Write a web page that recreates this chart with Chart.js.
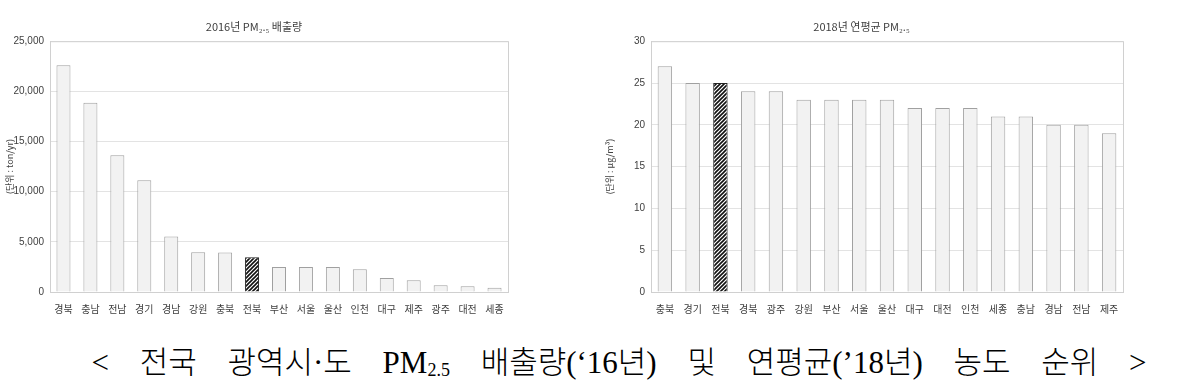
<!DOCTYPE html>
<html>
<head>
<meta charset="utf-8">
<script src="https://cdn.jsdelivr.net/npm/chart.js@4.4.0/dist/chart.umd.min.js"></script>
<style>
  body { margin: 0; background: #fff; width: 1194px; height: 383px; overflow: hidden; position: relative; }
  #box1 { position: absolute; left: 0; top: 0; width: 515px; height: 320px; }
  #box2 { position: absolute; left: 600px; top: 0; width: 530px; height: 320px; }
  #caption { position: absolute; left: 22px; top: 343px; width: 1194px; text-align: center; white-space: nowrap;
    font-family: "Liberation Serif", "Noto Sans CJK KR", serif; font-size: 31px; line-height: 40px; font-weight: 300;
    color: #000; word-spacing: 23px; }
  #caption sub { font-size: 18px; vertical-align: -3px; }
</style>
</head>
<body>
<div id="box1"><canvas id="chartEmis"></canvas></div>
<div id="box2"><canvas id="chartConc"></canvas></div>
<div id="caption">&lt; 전국 광역시·도 PM<sub>2.5</sub> 배출량(‘16년) 및 연평균(’18년) 농도 순위 &gt;</div>
<script>
// 2016 배출량 (ton/yr)
var regions2016 = ['경북', '충남', '전남', '경기', '경남', '강원', '충북', '전북', '부산', '서울', '울산', '인천', '대구', '제주', '광주', '대전', '세종'];
var emission2016 = [22600, 18870, 13630, 11130, 5530, 3970, 3930, 3470, 2500, 2500, 2500, 2270, 1400, 1170, 670, 570, 430];
var ticks2016 = [0, 5000, 10000, 15000, 20000, 25000];

// 2018 연평균 농도 (ug/m3)
var regions2018 = ['충북', '경기', '전북', '경북', '광주', '강원', '부산', '서울', '울산', '대구', '대전', '인천', '세종', '충남', '경남', '전남', '제주'];
var conc2018 = [27, 25, 25, 24, 24, 23, 23, 23, 23, 22, 22, 22, 21, 21, 20, 20, 19];
var ticks2018 = [0, 5, 10, 15, 20, 25, 30];

var highlight = '전북';

function hatch() {
  var c = document.createElement('canvas');
  c.width = 4; c.height = 4;
  var g = c.getContext('2d');
  g.fillStyle = '#fff';
  g.fillRect(0, 0, 4, 4);
  g.strokeStyle = '#111';
  g.lineWidth = 1.6;
  g.beginPath();
  g.moveTo(-1, 5); g.lineTo(5, -1);
  g.moveTo(-1, 1); g.lineTo(1, -1);
  g.moveTo(3, 5); g.lineTo(5, 3);
  g.stroke();
  return g.createPattern(c, 'repeat');
}
var pat = hatch();

var frame = {
  id: 'frame',
  afterDraw: function (chart) {
    var a = chart.chartArea, ctx = chart.ctx;
    ctx.save();
    ctx.strokeStyle = '#d0d0d0';
    ctx.lineWidth = 1;
    ctx.strokeRect(a.left + 0.5, a.top + 0.5, a.right - a.left, a.bottom - a.top);
    ctx.restore();
  }
};

function makeChart(id, labels, values, ticks, title, yTitle, yWidth) {
  var fills = labels.map(function (l) { return l == highlight ? pat : '#f2f2f2'; });
  var borders = labels.map(function (l) { return l == highlight ? '#222' : '#a0a0a0'; });
  return new Chart(document.getElementById(id), {
    type: 'bar',
    data: {
      labels: labels,
      datasets: [{
        data: values,
        backgroundColor: fills,
        borderColor: borders,
        borderWidth: 1,
        barPercentage: 0.52,
        categoryPercentage: 1
      }]
    },
    plugins: [frame],
    options: {
      responsive: true,
      maintainAspectRatio: false,
      animation: false,
      layout: { padding: { right: 7 } },
      plugins: {
        legend: { display: false },
        tooltip: { enabled: false },
        title: {
          display: true,
          text: title,
          color: '#404040',
          font: { family: 'Noto Sans CJK KR', size: 11, weight: 'normal' },
          padding: { top: 20, bottom: 8 }
        }
      },
      scales: {
        x: {
          grid: { display: false },
          border: { color: '#d0d0d0' },
          ticks: { color: '#404040', font: { family: 'Noto Sans CJK KR', size: 10 }, maxRotation: 0, autoSkip: false },
          afterFit: function (s) { s.height = 28; }
        },
        y: {
          min: ticks[0],
          max: ticks[ticks.length - 1],
          afterBuildTicks: function (s) { s.ticks = ticks.map(function (v) { return { value: v }; }); },
          grid: { color: '#e3e3e3', drawTicks: false },
          border: { color: '#d0d0d0' },
          ticks: {
            color: '#404040',
            padding: 6,
            font: { family: 'Liberation Sans Narrow, Liberation Sans', size: 10 },
            callback: function (v) { return v.toLocaleString('en-US'); }
          },
          title: { display: true, text: yTitle, color: '#404040', font: { family: 'Noto Sans CJK KR', size: 9 } },
          afterFit: function (s) { s.width = yWidth; }
        }
      }
    }
  });
}

makeChart('chartEmis', regions2016, emission2016, ticks2016, '2016년 PM₂.₅ 배출량', '(단위 : ton/yr)', 50);
makeChart('chartConc', regions2018, conc2018, ticks2018, '2018년 연평균 PM₂.₅', '(단위 : μg/m³)', 51);
</script>
</body>
</html>
